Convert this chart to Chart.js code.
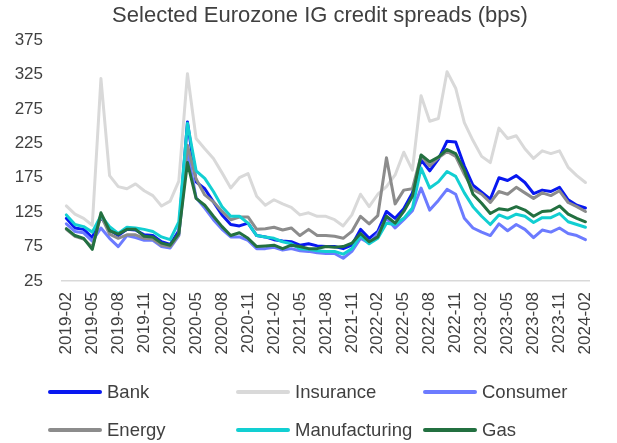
<!DOCTYPE html>
<html><head><meta charset="utf-8">
<script src="https://cdn.jsdelivr.net/npm/chart.js@4"></script>
<style>
html,body{margin:0;padding:0;background:#fff;}
#wrap{position:relative;width:617px;height:443px;overflow:hidden;}
#c{position:absolute;left:0;top:0;}
#title{position:absolute;left:0;top:2px;width:640px;text-align:center;font-family:"Liberation Sans",Arial,sans-serif;font-size:22px;line-height:26px;color:#404040;white-space:nowrap;}
.leg{position:absolute;display:flex;align-items:center;font-family:"Liberation Sans",Arial,sans-serif;font-size:18.5px;color:#404040;white-space:nowrap;height:24px;line-height:24px;}
.leg .sw{display:inline-block;width:54px;height:4px;border-radius:2px;margin-right:5px;}
</style></head>
<body><div id="wrap"><canvas id="c" width="617" height="443"></canvas><div id="title"></div><div id="legend"></div></div>
<script>
const months = ['2019-02','2019-03','2019-04','2019-05','2019-06','2019-07','2019-08','2019-09','2019-10','2019-11','2019-12',
'2020-01','2020-02','2020-03','2020-04','2020-05','2020-06','2020-07','2020-08','2020-09','2020-10','2020-11','2020-12',
'2021-01','2021-02','2021-03','2021-04','2021-05','2021-06','2021-07','2021-08','2021-09','2021-10','2021-11','2021-12',
'2022-01','2022-02','2022-03','2022-04','2022-05','2022-06','2022-07','2022-08','2022-09','2022-10','2022-11','2022-12',
'2023-01','2023-02','2023-03','2023-04','2023-05','2023-06','2023-07','2023-08','2023-09','2023-10','2023-11','2023-12',
'2024-01','2024-02'];

const bank = [116,102,100,88,118,99,91,100,99,92,91,82,78,98,256,169,159,140,121,107,105,109,91,89,85,83,82,77,79,76,75,75,72,77,100,87,97,126,116,130,153,201,185,202,228,227,192,164,154,144,175,171,178,168,152,157,155,161,143,135,131];
const insurance = [134,122,116,106,319,178,162,159,166,156,149,134,141,170,326,232,217,203,182,160,175,181,148,135,143,137,132,121,124,119,119,114,105,121,151,133,151,162,179,212,186,294,257,261,329,305,255,229,206,197,247,232,236,217,203,214,210,214,190,178,168];
const consumer = [108,97,95,83,102,87,75,91,88,84,84,75,73,91,213,146,131,114,100,89,89,84,72,72,74,70,72,69,68,66,65,65,58,68,87,80,94,116,102,114,127,160,128,142,158,151,116,102,96,91,108,98,107,100,88,99,96,102,94,91,85];
const energy = [100,90,86,74,120,93,87,92,92,87,86,77,75,92,222,173,150,140,126,114,118,118,100,101,103,99,102,91,100,91,91,90,87,97,119,108,120,204,137,157,159,207,192,204,213,206,180,158,151,139,155,151,161,153,145,153,149,156,139,133,126];
const manufacturing = [121,107,104,96,120,104,94,103,102,100,97,89,85,111,254,185,174,155,133,119,119,109,91,89,87,82,79,72,71,69,68,68,64,72,91,79,87,109,107,116,131,189,160,169,184,177,153,133,119,107,121,116,122,119,110,117,117,123,111,107,103];
const gas = [101,91,87,71,124,98,93,100,100,90,89,80,77,94,197,145,135,119,104,91,95,87,75,76,77,72,77,75,72,72,75,74,75,80,94,82,89,119,109,126,148,208,198,205,216,210,186,151,138,123,130,128,133,128,119,126,127,134,122,116,111];

const seriesNames = ['Bank','Insurance','Consumer','Energy','Manufacturing','Gas'];
const seriesData = [bank, insurance, consumer, energy, manufacturing, gas];
const seriesColors = ['#0818f0','#d9d9d9','#6c7bff','#8c8c8c','#12cfd2','#237040'];
const yTicks = [25,75,125,175,225,275,325,375];
const titleText = 'Selected Eurozone IG credit spreads (bps)';

const FONT = '"Liberation Sans", Arial, sans-serif';
const TXT = '#404040';

document.getElementById('title').textContent = titleText;

const datasets = seriesNames.map((n,i)=>({
  label:n, data:seriesData[i], borderColor:seriesColors[i], backgroundColor:seriesColors[i],
  borderWidth:3, pointRadius:0, tension:0, fill:false, order:5-i,
  borderJoinStyle:'round', borderCapStyle:'round'
}));

new Chart(document.getElementById('c'), {
  type:'line',
  data:{labels:months, datasets},
  options:{
    responsive:false, animation:false,
    layout:{padding:{left:0,right:16,top:40,bottom:0}},
    plugins:{
      legend:{display:false},
      tooltip:{enabled:false},
      title:{display:false}
    },
    scales:{
      x:{
        offset:true,
        grid:{display:false,drawTicks:false},
        border:{display:true,color:'#d9d9d9',width:1.5},
        ticks:{autoSkip:false,maxRotation:90,minRotation:90,padding:11,color:TXT,
          font:{family:FONT,size:17},
          callback:(v,i)=> (i%3===0 ? months[i] : '')},
        afterFit:s=>{s.height=162;}
      },
      y:{
        min:25,max:375,
        afterBuildTicks:s=>{s.ticks = yTicks.map(v=>({value:v}));},
        grid:{display:false,drawTicks:false},
        border:{display:false},
        ticks:{padding:19,color:TXT,font:{family:FONT,size:17}},
        afterFit:s=>{s.width=62;}
      }
    }
  }
});

// legend (HTML, built from the series)
const legendPos = [[48,380],[236,380],[423,380],[48,418],[236,418],[423,418]];
const leg = document.getElementById('legend');
seriesNames.forEach((n,i)=>{
  const d=document.createElement('div');
  d.className='leg';
  d.style.left=legendPos[i][0]+'px';
  d.style.top=legendPos[i][1]+'px';
  d.innerHTML='<span class="sw" style="background:'+seriesColors[i]+'"></span><span>'+n+'</span>';
  leg.appendChild(d);
});
</script>
</body></html>
